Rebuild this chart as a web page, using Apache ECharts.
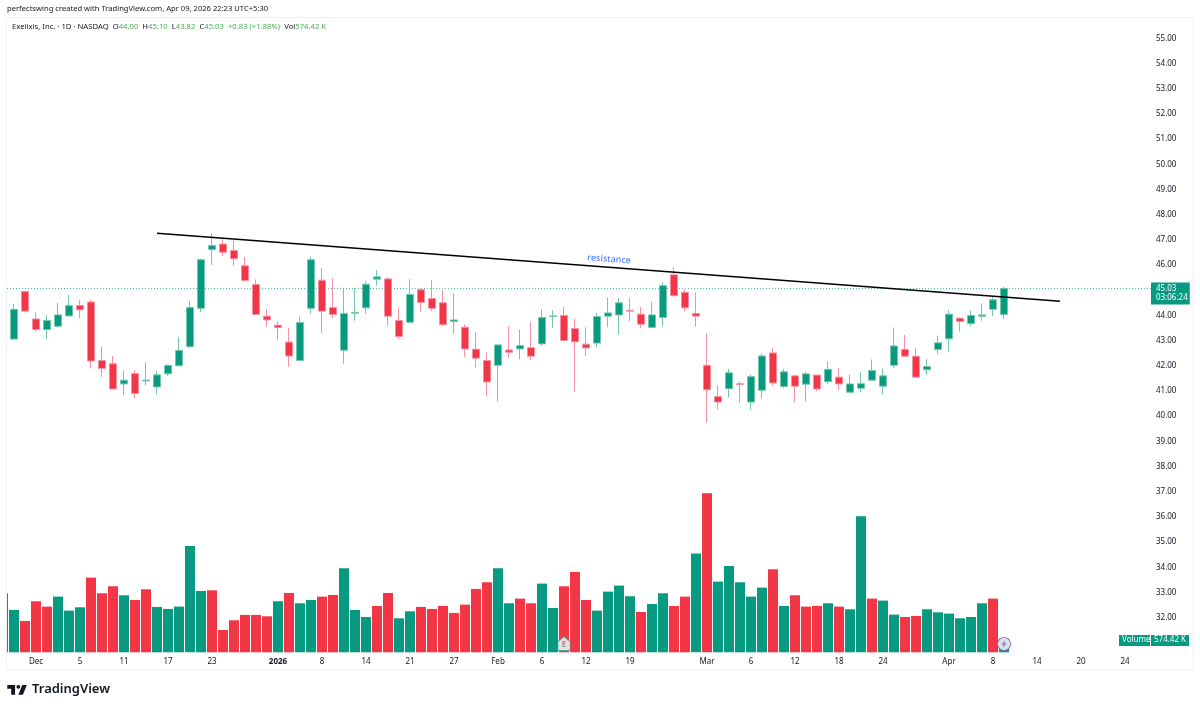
<!DOCTYPE html>
<html>
<head>
    <meta charset="utf-8">
    <style>
        html, body { margin: 0; padding: 0; background: #fff; }
    </style>
    <script src="https://cdn.jsdelivr.net/npm/echarts@6/dist/echarts.min.js"></script>
</head>

<body>
    <div id="main" style="width: 1200px;height:710px;"></div>
    <script type="text/javascript">
        // candles, Nov 26 2025 .. Apr 09 2026
        var opens = [43.02,44.91,43.82,43.40,43.53,43.94,44.35,44.49,42.17,42.04,41.24,41.65,41.36,41.12,41.64,41.96,42.72,44.24,46.57,46.79,46.54,45.93,45.19,43.93,43.57,42.90,42.17,44.24,45.36,44.27,
            42.58,44.05,44.26,45.40,45.41,43.76,43.69,44.98,44.63,44.46,43.72,43.49,42.62,42.17,41.98,42.59,42.63,42.68,42.83,43.92,43.96,43.44,42.82,42.86,43.93,43.98,44.16,44.01,43.48,43.88,
            45.57,44.88,44.04,41.98,40.74,41.05,41.25,40.52,40.99,42.47,41.14,41.56,41.23,41.59,41.33,41.51,40.91,41.07,41.39,41.15,41.98,42.61,42.34,41.80,42.61,43.03,43.85,43.63,43.93,44.20,44.00];
        var closes = [44.20,44.13,43.40,43.76,43.98,44.35,44.18,42.15,41.85,41.04,41.39,40.86,41.39,41.60,41.98,42.57,44.27,46.17,46.74,46.47,46.21,45.35,44.00,43.78,43.48,42.35,43.68,46.17,44.13,44.00,
            44.04,44.08,45.20,45.49,43.93,43.12,44.79,44.47,44.24,43.59,43.78,42.63,42.26,41.32,42.79,42.50,42.76,42.34,43.88,43.94,42.96,42.91,42.67,43.92,44.06,44.46,44.13,43.61,43.98,45.14,
            44.74,44.26,43.93,41.01,40.52,41.68,41.22,41.53,42.35,41.28,41.72,41.15,41.64,41.04,41.82,41.24,41.24,41.25,41.77,41.56,42.75,42.34,41.51,41.93,42.87,44.01,43.72,43.96,43.98,44.58,45.03];
        var lows = [42.98,44.08,43.32,43.02,43.48,43.93,43.84,41.86,41.52,41.03,40.80,40.67,41.19,40.83,41.56,41.95,42.67,44.09,45.96,46.32,45.94,45.30,43.99,43.51,43.00,41.92,42.16,44.02,43.27,43.86,
            42.05,43.75,44.02,45.14,43.53,43.02,43.68,44.09,44.13,43.53,43.23,42.31,41.89,40.75,40.54,42.27,42.22,42.18,42.75,43.47,42.95,40.92,42.35,42.71,43.49,43.19,43.73,43.45,43.46,43.52,
            44.73,44.13,43.51,39.70,40.21,40.70,40.49,40.23,40.67,41.16,41.07,40.51,40.54,40.96,41.23,41.00,40.90,40.91,41.38,40.83,41.88,42.33,41.49,41.59,42.42,42.50,43.32,43.53,43.74,43.93,43.82];
        var highs = [44.43,44.93,44.09,43.97,44.46,44.78,44.59,44.59,42.72,42.35,41.78,41.78,42.10,41.76,42.01,43.11,44.54,46.22,47.22,46.98,46.93,46.28,45.39,44.21,43.71,43.45,43.92,46.30,45.84,45.43,
            45.06,45.06,45.32,45.76,45.49,44.27,45.40,45.04,45.36,44.96,44.84,43.60,43.29,42.49,42.80,43.53,43.40,43.69,44.20,44.16,44.29,43.81,43.49,44.05,44.67,44.65,44.65,44.29,44.49,45.28,
            45.88,45.00,44.88,43.24,41.19,41.84,41.35,41.61,42.45,42.66,41.84,41.57,41.73,41.61,42.13,41.86,41.61,41.70,42.21,41.86,43.48,43.19,42.68,42.22,43.16,44.17,43.88,44.16,44.43,44.73,45.10];

        // volume in thousands, starts one session before the first candle (clipped by the left edge)
        var volumes = [2490,1787,1323,2153,1928,2350,1759,1899,3152,2490,2786,2406,2209,2659,1914,1829,1928,4488,2589,2617,943,1351,1576,1576,1520,2153,2504,2068,2209,2350,2420,
            3546,1787,1491,1956,2504,1435,1731,1914,1829,1956,1660,2012,2673,2955,3546,2068,2265,2068,2898,1871,2786,3391,2209,1759,2561,2814,2364,1702,2040,2490,
            1956,2350,4165,6711,2983,3644,2955,2350,2730,3503,1956,2406,1928,1956,2068,1928,1815,5741,2265,2181,1590,1491,1534,1815,1688,1632,1435,1491,2068,2265,574.42];
        var volumeUp = [1,1,0,0,0,1,1,1,0,0,0,1,0,0,1,1,1,1,1,0,0,0,0,0,0,1,0,1,1,0,0,
            1,1,1,0,0,1,1,0,0,0,0,0,0,0,1,1,0,0,1,1,0,0,0,1,1,1,1,0,1,1,
            0,0,1,0,1,1,1,1,1,0,1,0,0,0,1,0,1,1,0,1,1,0,0,1,1,1,1,1,1,0,1];

        var dateTickIndex = [2,6,10,14,18,24,28,32,36,40,44,48,52,56,63,67,71,75,79,85,89,93,97,101];
        var dateTickText = ['Dec','5','11','17','23','2026','8','14','21','27','Feb','6','12','19','Mar','6','12','18','24','Apr','8','14','20','24'];

        var trendX = [13, 95.09];
        var trendPrice = [47.22, 44.52];
        var lastPrice = 45.03;

        var GREEN = '#089981';
        var RED = '#f23645';
        var TEXT = '#131722';
        var FONT = '"Noto Sans", sans-serif';
        var xMin = -0.636, xMax = 103.36;

        var candleData = opens.map(function (o, i) {
            return [i, o, closes[i], lows[i], highs[i]];
        });
        var volumeData = volumes.map(function (v, i) {
            return {
                value: [i - 1, v],
                itemStyle: {color: volumeUp[i] ? GREEN : RED}
            };
        });

        var option = {
            animation: false,
            backgroundColor: '#ffffff',
            textStyle: {fontFamily: FONT},
            grid: [
                {left: 7, width: 1144, top: 12.1, height: 629.8},
                {left: 7, width: 1144, top: 486.4, height: 165.9}
            ],
            xAxis: [
                {type: 'value', gridIndex: 0, min: xMin, max: xMax, show: false},
                {
                    type: 'value',
                    gridIndex: 1,
                    min: xMin,
                    max: xMax,
                    splitLine: {show: false},
                    axisLine: {show: false},
                    axisTick: {show: false},
                    axisLabel: {
                        customValues: dateTickIndex,
                        margin: 5,
                        color: TEXT,
                        fontSize: 8,
                        fontFamily: FONT,
                        formatter: function (v) {
                            var s = dateTickText[dateTickIndex.indexOf(v)];
                            return s === '2026' ? '{b|2026}' : s;
                        },
                        rich: {b: {fontWeight: 'bold', fontSize: 8, color: TEXT, fontFamily: FONT}}
                    }
                }
            ],
            yAxis: [
                {
                    type: 'value',
                    gridIndex: 0,
                    position: 'right',
                    min: 31,
                    max: 56,
                    interval: 1,
                    splitLine: {show: false},
                    axisLine: {show: false},
                    axisTick: {show: false},
                    axisLabel: {
                        margin: 5,
                        color: TEXT,
                        fontSize: 8,
                        fontFamily: FONT,
                        showMinLabel: false,
                        showMaxLabel: false,
                        formatter: function (v) { return '{p|' + v.toFixed(2) + '}'; },
                        rich: {p: {fontSize: 8, color: TEXT, fontFamily: FONT, padding: [2, 0, 0, 0]}}
                    }
                },
                {type: 'value', gridIndex: 1, min: 0, max: 7000, show: false}
            ],
            series: [
                {
                    name: 'Volume',
                    type: 'bar',
                    xAxisIndex: 1,
                    yAxisIndex: 1,
                    barWidth: 10,
                    encode: {x: 0, y: 1},
                    data: volumeData,
                    silent: true
                },
                {
                    name: 'LastPrice',
                    type: 'line',
                    xAxisIndex: 0,
                    yAxisIndex: 0,
                    showSymbol: false,
                    silent: true,
                    lineStyle: {color: '#45b8a4', type: [1, 2], width: 1},
                    data: [[xMin, lastPrice], [xMax, lastPrice]],
                    z: 1
                },
                {
                    name: 'Price',
                    type: 'candlestick',
                    xAxisIndex: 0,
                    yAxisIndex: 0,
                    barWidth: 8,
                    encode: {x: 0, y: [1, 2, 3, 4]},
                    itemStyle: {
                        color: GREEN,
                        color0: RED,
                        borderColor: '#74c7a8',
                        borderColor0: '#f78fa4',
                        borderWidth: 1
                    },
                    data: candleData,
                    silent: true,
                    markLine: {
                        silent: true,
                        symbol: 'none',
                        lineStyle: {color: 'rgba(0,0,0,0)'},
                        label: {
                            position: 'end',
                            distance: 0,
                            offset: [0, 5],
                            formatter: '{a|' + lastPrice.toFixed(2) + '}\n{c|03:06:24}',
                            backgroundColor: GREEN,
                            padding: [2, 2, 2, 5],
                            rich: {
                                a: {color: '#fff', fontSize: 8, lineHeight: 9, fontFamily: FONT},
                                c: {color: '#fff', fontSize: 8, lineHeight: 9, fontFamily: FONT}
                            }
                        },
                        data: [{yAxis: lastPrice}]
                    }
                },
                {
                    name: 'Trend',
                    type: 'line',
                    xAxisIndex: 0,
                    yAxisIndex: 0,
                    showSymbol: false,
                    silent: true,
                    lineStyle: {color: '#000000', width: 1.6},
                    data: [[trendX[0], trendPrice[0]], [trendX[1], trendPrice[1]]],
                    z: 5
                },
                {
                    name: 'Note',
                    type: 'scatter',
                    xAxisIndex: 0,
                    yAxisIndex: 0,
                    symbolSize: 0,
                    silent: true,
                    label: {
                        show: true,
                        position: 'inside',
                        rotate: -4.3,
                        formatter: 'resistance',
                        color: '#2962ff',
                        fontSize: 9,
                        fontWeight: 500,
                        fontFamily: FONT
                    },
                    data: [[54.1, 46.19]],
                    z: 6
                },
                {
                    name: 'Earnings',
                    type: 'scatter',
                    xAxisIndex: 1,
                    yAxisIndex: 1,
                    symbol: 'path://M0 5 L6 0 L12 5 L12 14 L0 14 Z',
                    symbolSize: [12, 14],
                    silent: true,
                    itemStyle: {color: '#ffffff', borderColor: '#22ab94', borderWidth: 1},
                    label: {
                        show: true,
                        position: 'inside',
                        offset: [0, 1],
                        formatter: 'E',
                        color: '#22ab94',
                        fontSize: 8,
                        fontWeight: 'bold',
                        fontFamily: FONT
                    },
                    data: [[50, 371]],
                    z: 6
                },
                {
                    name: 'Split',
                    type: 'scatter',
                    xAxisIndex: 1,
                    yAxisIndex: 1,
                    symbol: 'circle',
                    symbolSize: 13,
                    silent: true,
                    itemStyle: {color: '#ffffff', borderColor: '#ab47bc', borderWidth: 1.2},
                    data: [[90, 350]],
                    z: 6
                },
                {
                    name: 'Bolt',
                    type: 'scatter',
                    xAxisIndex: 1,
                    yAxisIndex: 1,
                    symbol: 'path://M6 0 L1 7 L4 7 L3 12 L8 5 L5 5 Z',
                    symbolSize: [5, 8],
                    silent: true,
                    itemStyle: {color: '#ab47bc'},
                    data: [[90, 350]],
                    z: 7
                }
            ],
            graphic: [
                // bars get clipped a band wider than the grid, hide what sticks out on the left
                {
                    type: 'rect',
                    z: 50,
                    shape: {x: 0, y: 480, width: 6.5, height: 180},
                    style: {fill: '#ffffff'}
                },
                {
                    type: 'rect',
                    z: 51,
                    shape: {x: 6.5, y: 17.5, width: 1186.5, height: 652.5},
                    style: {fill: 'none', stroke: '#eef0f4', lineWidth: 1}
                },
                {
                    type: 'text',
                    x: 7,
                    y: 5,
                    style: {
                        text: 'perfectswing created with TradingView.com, Apr 09, 2026 22:23 UTC+5:30',
                        fill: TEXT,
                        font: '7.6px ' + FONT
                    }
                },
                {
                    type: 'text',
                    x: 12,
                    y: 23,
                    style: {
                        text: 'Exelixis, Inc. · 1D · NASDAQ  O{g|44.00}  H{g|45.10}  L{g|43.82}  C{g|45.03}  {g|+0.83 (+1.88%)}  Vol{g|574.42 K}',
                        fill: TEXT,
                        font: '7.7px ' + FONT,
                        rich: {g: {fill: '#4caf50', font: '7.7px ' + FONT}}
                    }
                },
                {
                    type: 'rect',
                    z: 50,
                    shape: {x: 1119, y: 635, width: 31, height: 11},
                    style: {fill: GREEN}
                },
                {
                    type: 'rect',
                    z: 50,
                    shape: {x: 1151, y: 635, width: 38, height: 11},
                    style: {fill: GREEN}
                },
                {
                    type: 'text',
                    z: 51,
                    x: 1122,
                    y: 636,
                    style: {text: 'Volume', fill: '#fff', font: '8px ' + FONT}
                },
                {
                    type: 'text',
                    z: 51,
                    x: 1154,
                    y: 636,
                    style: {text: '574.42 K', fill: '#fff', font: '8px ' + FONT}
                },
                {
                    type: 'group',
                    x: 6,
                    y: 681,
                    scaleX: 0.65,
                    scaleY: 0.65,
                    children: [
                        {type: 'polygon', shape: {points: [[2, 6], [14, 6], [14, 21], [8, 21], [8, 12], [2, 12]]}, style: {fill: '#131722'}},
                        {type: 'polygon', shape: {points: [[25, 6], [32, 6], [26, 21], [19, 21]]}, style: {fill: '#131722'}},
                        {type: 'circle', shape: {cx: 19, cy: 9, r: 3}, style: {fill: '#131722'}}
                    ]
                },
                {
                    type: 'text',
                    x: 32,
                    y: 683,
                    style: {text: 'TradingView', fill: '#131722', font: '600 13px ' + FONT}
                }
            ]
        };

        var myChart = echarts.init(document.getElementById('main'));
        myChart.setOption(option);
    </script>
</body>

</html>
